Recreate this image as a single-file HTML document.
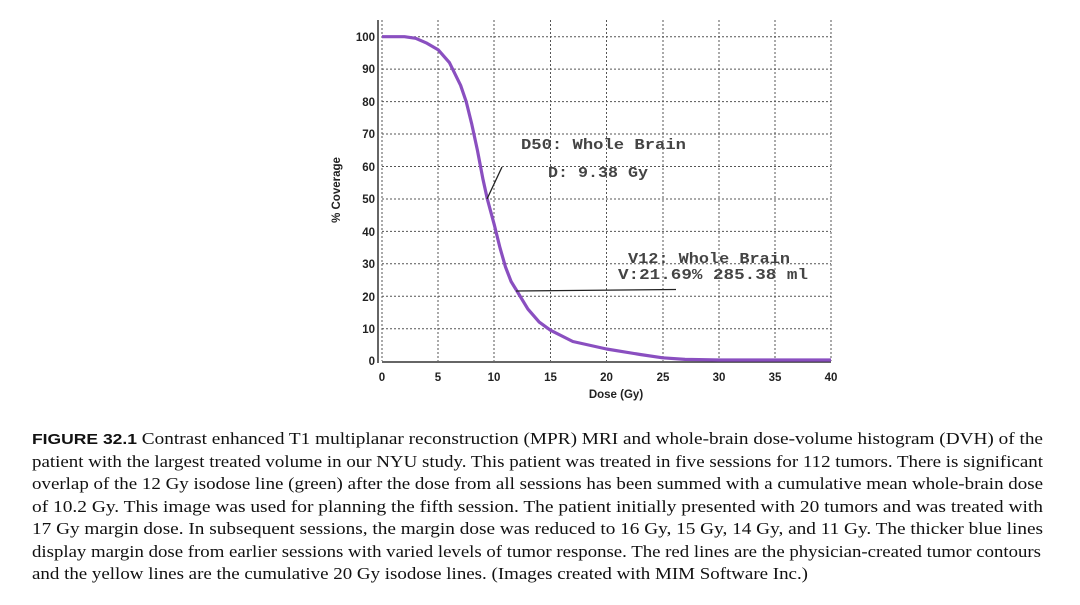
<!DOCTYPE html>
<html><head><style>
body{margin:0;width:1080px;height:605px;background:#fff;overflow:hidden;position:relative}
</style></head><body>
<svg width="1080" height="605" style="position:absolute;left:0;top:0" font-family="Liberation Sans, sans-serif">
<g stroke="#555" stroke-width="1" stroke-dasharray="2,2">
<line x1="382" y1="36.7" x2="831" y2="36.7"/><line x1="382" y1="69.1" x2="831" y2="69.1"/><line x1="382" y1="101.6" x2="831" y2="101.6"/><line x1="382" y1="134" x2="831" y2="134"/><line x1="382" y1="166.5" x2="831" y2="166.5"/><line x1="382" y1="199" x2="831" y2="199"/><line x1="382" y1="231.4" x2="831" y2="231.4"/><line x1="382" y1="263.8" x2="831" y2="263.8"/><line x1="382" y1="296.3" x2="831" y2="296.3"/><line x1="382" y1="328.8" x2="831" y2="328.8"/>
<line x1="438" y1="20" x2="438" y2="361"/><line x1="494" y1="20" x2="494" y2="361"/><line x1="550.5" y1="20" x2="550.5" y2="361"/><line x1="606.5" y1="20" x2="606.5" y2="361"/><line x1="663" y1="20" x2="663" y2="361"/><line x1="719" y1="20" x2="719" y2="361"/><line x1="775" y1="20" x2="775" y2="361"/><line x1="831" y1="20" x2="831" y2="361"/>
<line x1="382" y1="20" x2="382" y2="361"/>
</g>
<line x1="378" y1="20" x2="378" y2="363" stroke="#333" stroke-width="1.5"/>
<line x1="382" y1="362" x2="831" y2="362" stroke="#333" stroke-width="1.5"/>
<g font-size="11.5" font-weight="bold" fill="#222" text-anchor="end">
<text x="375" y="41">100</text><text x="375" y="73">90</text><text x="375" y="106">80</text><text x="375" y="138">70</text><text x="375" y="171">60</text><text x="375" y="203">50</text><text x="375" y="236">40</text><text x="375" y="268">30</text><text x="375" y="301">20</text><text x="375" y="333">10</text><text x="375" y="365">0</text>
</g>
<g font-size="11.5" font-weight="bold" fill="#222" text-anchor="middle">
<text x="382" y="381">0</text><text x="438" y="381">5</text><text x="494" y="381">10</text><text x="550.5" y="381">15</text><text x="606.5" y="381">20</text><text x="663" y="381">25</text><text x="719" y="381">30</text><text x="775" y="381">35</text><text x="831" y="381">40</text>
<text x="616" y="398">Dose (Gy)</text>
<text transform="translate(340,190) rotate(-90)">% Coverage</text>
</g>
<polyline points="382,36.7 404.5,36.7 415.7,38.3 426.9,43.2 438.1,49.7 449.4,62.6 460.6,85.3 466.2,101.6 471.8,124.3 477.4,150.2 483,179.4 487.3,198.9 494.3,224.8 499.9,247.5 505.5,267 511.1,281.5 516.7,290.6 527.9,309.1 539.2,322.1 550.4,330.2 572.8,341.5 606.5,349 640.2,354.5 662.6,357.8 685,359.4 718.8,360 831,360" fill="none" stroke="#8a4fc0" stroke-width="3.2" stroke-linejoin="round"/>
<line x1="487" y1="199" x2="502" y2="167" stroke="#222" stroke-width="1.3"/>
<line x1="516" y1="291" x2="676" y2="289.5" stroke="#222" stroke-width="1.3"/>
<g font-family="Liberation Mono, monospace" font-size="15" fill="#444" font-weight="bold">
<text x="521" y="149" textLength="165" lengthAdjust="spacingAndGlyphs">D50: Whole Brain</text>
<text x="548" y="177" textLength="100" lengthAdjust="spacingAndGlyphs">D: 9.38 Gy</text>
<text x="628" y="263" textLength="162" lengthAdjust="spacingAndGlyphs">V12: Whole Brain</text>
<text x="618" y="279" textLength="190" lengthAdjust="spacingAndGlyphs">V:21.69% 285.38 ml</text>
</g>
<g font-family="Liberation Serif, serif" font-size="16.5" fill="#111">
<text x="32" y="444" textLength="1011" lengthAdjust="spacingAndGlyphs"><tspan font-family="Liberation Sans, sans-serif" font-weight="bold" font-size="15">FIGURE 32.1</tspan>   Contrast enhanced T1 multiplanar reconstruction (MPR) MRI and whole-brain dose-volume histogram (DVH) of the</text>
<text x="32" y="467" textLength="1011" lengthAdjust="spacingAndGlyphs">patient with the largest treated volume in our NYU study. This patient was treated in five sessions for 112 tumors. There is significant</text>
<text x="32" y="489" textLength="1011" lengthAdjust="spacingAndGlyphs">overlap of the 12 Gy isodose line (green) after the dose from all sessions has been summed with a cumulative mean whole-brain dose</text>
<text x="32" y="512" textLength="1011" lengthAdjust="spacingAndGlyphs">of 10.2 Gy. This image was used for planning the fifth session. The patient initially presented with 20 tumors and was treated with</text>
<text x="32" y="534" textLength="1011" lengthAdjust="spacingAndGlyphs">17 Gy margin dose. In subsequent sessions, the margin dose was reduced to 16 Gy, 15 Gy, 14 Gy, and 11 Gy.  The thicker blue lines</text>
<text x="32" y="557" textLength="1009" lengthAdjust="spacingAndGlyphs">display margin dose from earlier sessions with varied levels of tumor response. The red lines are the physician-created tumor contours</text>
<text x="32" y="579" textLength="776" lengthAdjust="spacingAndGlyphs">and the yellow lines are the cumulative 20 Gy isodose lines. (Images created with MIM Software Inc.)</text>
</g>
</svg>
</body></html>
